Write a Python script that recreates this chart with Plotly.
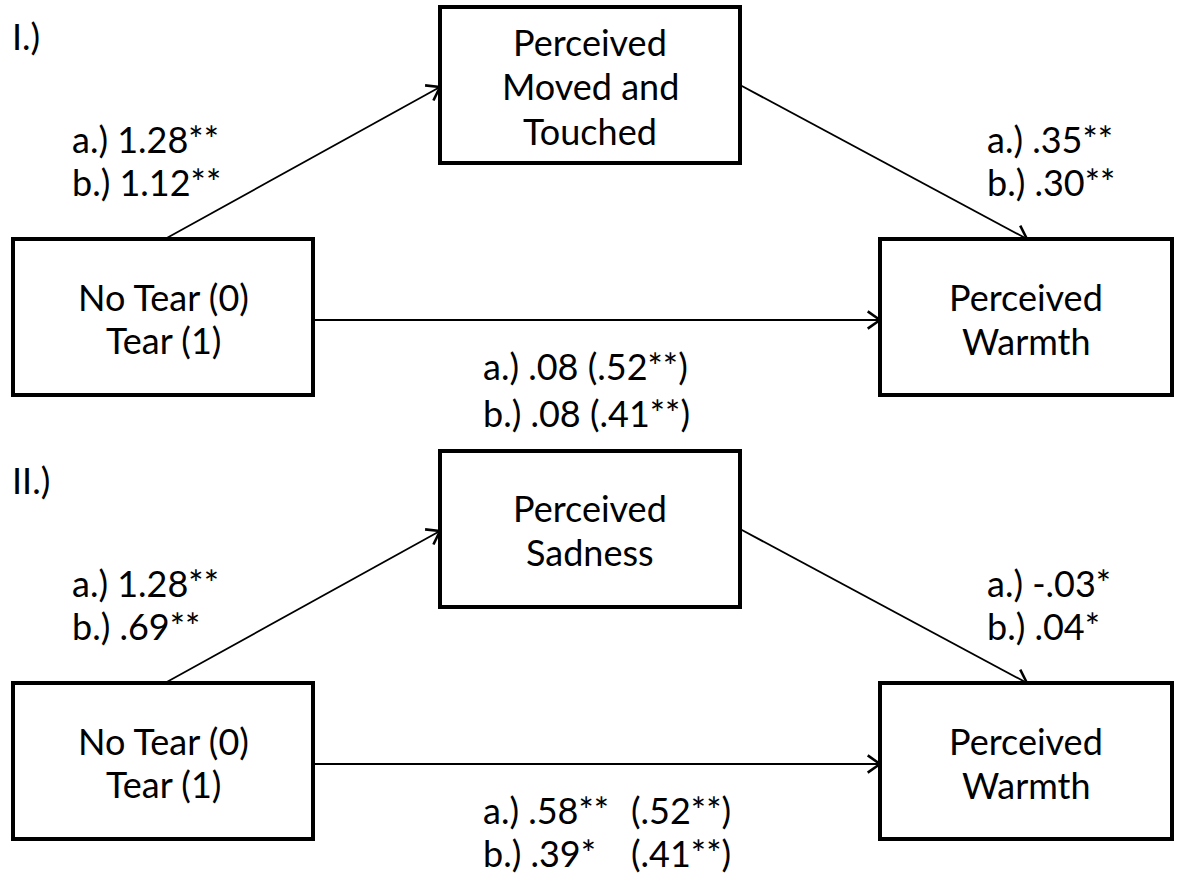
import math
import plotly.graph_objects as go

# ---- content ----
panel_labels = ["I.)", "II.)"]
mediators = [["Perceived", "Moved and", "Touched"], ["Perceived", "Sadness"]]
predictor = ["No Tear (0)", "Tear (1)"]
outcome = ["Perceived", "Warmth"]
path_a = [["a.) 1.28**", "b.) 1.12**"], ["a.) 1.28**", "b.) .69**"]]
path_b = [["a.) .35**", "b.) .30**"], ["a.) -.03*", "b.) .04*"]]
path_c = [[("a.) .08 (.52**)", ""), ("b.) .08 (.41**)", "")],
          [("a.) .58**", "(.52**)"), ("b.) .39*", "(.41**)")]]

# ---- layout geometry (pixels) ----
W, H = 1177, 876
FONT = "Lato"
FS = 36
LINE_H = 44.5
DY = 444  # vertical offset of panel II

fig = go.Figure()
shapes = []
ann = []

def box(x0, y0, x1, y1):
    shapes.append(dict(type="rect", x0=x0, y0=y0, x1=x1, y1=y1, xref="x", yref="y",
                       line=dict(color="black", width=4), fillcolor="white", layer="above"))

def text(t, x, y, anchor="center"):
    ann.append(dict(text=t, x=x, y=y, xref="x", yref="y", showarrow=False,
                    xanchor=anchor, yanchor="middle",
                    font=dict(family=FONT, size=FS, color="black")))

def arrow(x0, y0, x1, y1):
    fig.add_trace(go.Scatter(x=[x0, x1], y=[y0, y1], mode="lines",
                             line=dict(color="black", width=1.8), hoverinfo="skip", showlegend=False))
    ang = math.atan2(y1 - y0, x1 - x0)
    L = 15
    for d in (math.radians(35), -math.radians(35)):
        a = ang + math.pi + d
        fig.add_trace(go.Scatter(x=[x1 + L * math.cos(a), x1], y=[y1 + L * math.sin(a), y1],
                                 mode="lines", line=dict(color="black", width=2.6),
                                 hoverinfo="skip", showlegend=False))

for p in range(2):
    oy = p * DY
    text(panel_labels[p], 10, 36 + oy, anchor="left")
    mtop, mbot = 7 + oy, 163 + oy
    mcx, mcy = 590, (mtop + mbot) / 2 + 1
    ltop, lbot = 239 + oy, 395 + oy
    arrow(165, ltop, 440, 87 + oy)
    arrow(740, 85 + oy, 1027, ltop)
    arrow(313, 320 + oy, 880, 320 + oy)
    box(440, mtop, 740, mbot)
    box(13, ltop, 313, lbot)
    box(880, ltop, 1172, lbot)
    lines = mediators[p]
    n = len(lines)
    for i, t in enumerate(lines):
        text(t, mcx, mcy + (i - (n - 1) / 2) * LINE_H)
    lcy = (ltop + lbot) / 2 + 1.5
    for i, t in enumerate(predictor):
        text(t, 163, lcy + (i - 0.5) * 43.5)
    for i, t in enumerate(outcome):
        text(t, 1026, lcy + (i - 0.5) * 44)
    for i, t in enumerate(path_a[p]):
        text(t, 70, 139 + oy + i * 43, anchor="left")
    for i, t in enumerate(path_b[p]):
        text(t, 985, 139 + oy + i * 43, anchor="left")
    for i, (t1, t2) in enumerate(path_c[p]):
        yy = 366 + oy + i * (47 if p == 0 else 43)
        text(t1, 481, yy, anchor="left")
        if t2:
            text(t2, 629, yy, anchor="left")

fig.update_layout(
    width=W, height=H, margin=dict(l=0, r=0, t=0, b=0),
    paper_bgcolor="white", plot_bgcolor="white",
    xaxis=dict(range=[0, W], visible=False, fixedrange=True),
    yaxis=dict(range=[H, 0], visible=False, fixedrange=True),
    shapes=shapes, annotations=ann, showlegend=False,
)
fig.write_html("out.html", config={"displayModeBar": False},
               post_script="document.body.style.margin='0';document.body.style.overflow='hidden';")
